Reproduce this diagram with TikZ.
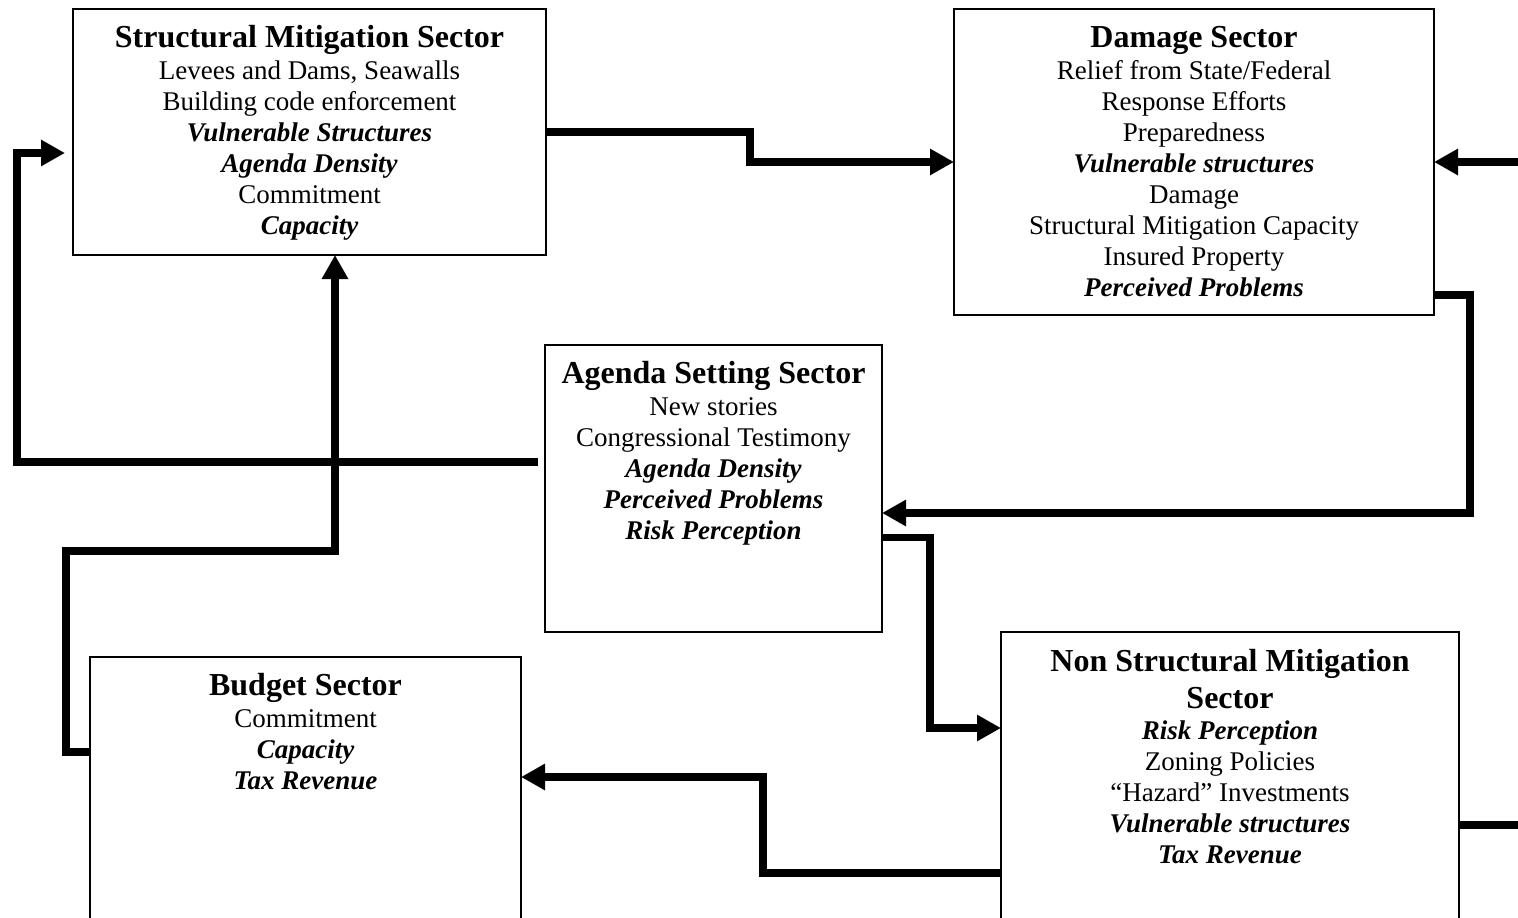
\documentclass[tikz,border=0pt]{standalone}
\usepackage{fontspec}
\setmainfont{Liberation Serif}
\usetikzlibrary{arrows.meta,calc}
\newcommand\keyvar{\bfseries\itshape}
\tikzset{
  sector/.style={draw, line width=1.5pt, inner sep=0pt, outer sep=0pt, anchor=north west},
  heading/.style={font=\fontsize{32}{37}\selectfont\bfseries, anchor=base, inner sep=0pt},
  entry/.style={font=\fontsize{27}{31}\selectfont, anchor=base, inner sep=0pt},
  flow/.style={line width=7.5pt, -{Triangle[length=24pt,width=25pt]}},
  link/.style={line width=7.5pt},
}
\begin{document}
\begin{tikzpicture}[x=1pt,y=-1pt]
\useasboundingbox (0,0) rectangle (1518,918);
\clip (0,0) rectangle (1518,918);

% sector boxes
\node[sector, minimum width=473pt, minimum height=246pt] (sm)  at (73,9) {};
\node[sector, minimum width=480pt, minimum height=306pt] (dmg) at (954,9) {};
\node[sector, minimum width=337pt, minimum height=287pt] (ag)  at (545,345) {};
\node[sector, minimum width=431pt, minimum height=300pt] (bud) at (90,657) {};
\node[sector, minimum width=458pt, minimum height=320pt] (ns)  at (1001,632) {};

% structural mitigation sector
\node[heading] (sm-t) at ($(sm.north)+(0,38)$) {Structural Mitigation Sector};
\foreach \t [count=\i] in {{Levees and Dams, Seawalls}, Building code enforcement,
    {\keyvar Vulnerable Structures}, {\keyvar Agenda Density}, Commitment, {\keyvar Capacity}}
  \node[entry] (sm-\i) at ($(sm.north)+(0,39+31*\i)$) {\t};

% damage sector
\node[heading] (dmg-t) at ($(dmg.north)+(0,38)$) {Damage Sector};
\foreach \t [count=\i] in {Relief from State/Federal, Response Efforts, Preparedness,
    {\keyvar Vulnerable structures}, Damage, Structural Mitigation Capacity,
    Insured Property, {\keyvar Perceived Problems}}
  \node[entry] (dmg-\i) at ($(dmg.north)+(0,39+31*\i)$) {\t};

% agenda setting sector
\node[heading] (ag-t) at ($(ag.north)+(0,38)$) {Agenda Setting Sector};
\foreach \t [count=\i] in {New stories, Congressional Testimony, {\keyvar Agenda Density},
    {\keyvar Perceived Problems}, {\keyvar Risk Perception}}
  \node[entry] (ag-\i) at ($(ag.north)+(0,39+31*\i)$) {\t};

% budget sector
\node[heading] (bud-t) at ($(bud.north)+(0,38)$) {Budget Sector};
\foreach \t [count=\i] in {Commitment, {\keyvar Capacity}, {\keyvar Tax Revenue}}
  \node[entry] (bud-\i) at ($(bud.north)+(0,39+31*\i)$) {\t};

% non structural mitigation sector
\node[heading] (ns-t1) at ($(ns.north)+(0,39)$) {Non Structural Mitigation};
\node[heading] (ns-t2) at ($(ns.north)+(0,76)$) {Sector};
\foreach \t [count=\i] in {{\keyvar Risk Perception}, Zoning Policies, “Hazard” Investments,
    {\keyvar Vulnerable structures}, {\keyvar Tax Revenue}}
  \node[entry] (ns-\i) at ($(ns.north)+(0,76+31*\i)$) {\t};

% connectors between sectors
\draw[flow] (sm.east) -- ++(204,0) |- (dmg.west);
\draw[flow, shorten <=7pt, shorten >=8pt] ([yshift=26.5pt]ag.west) -- ++(-528,0) |- ([yshift=-21pt]sm.west);
\draw[flow] ([yshift=-133pt]dmg.east) -- ++(36,0) |- ([yshift=-24.5pt]ag.east);
\draw[flow] ([yshift=-49pt]ag.east) -- ++(48,0) |- ([yshift=-96pt]ns.north west);
\draw[flow] ([yshift=-241pt]ns.north west) -- ++(-238,0) |- ([yshift=-120pt]bud.north east);
\draw[flow] ([yshift=-95pt]bud.north west) -- ++(-24,0) -- ++(0,-201) -| ([xshift=25.5pt]sm.south);

% links leaving the right edge
\coordinate (inR) at (1530,162);
\coordinate (outR) at (1530,825);
\draw[flow] (inR) -- (dmg.east);
\draw[link] ([yshift=-193pt]ns.north east) -- (outR);
\end{tikzpicture}
\end{document}
